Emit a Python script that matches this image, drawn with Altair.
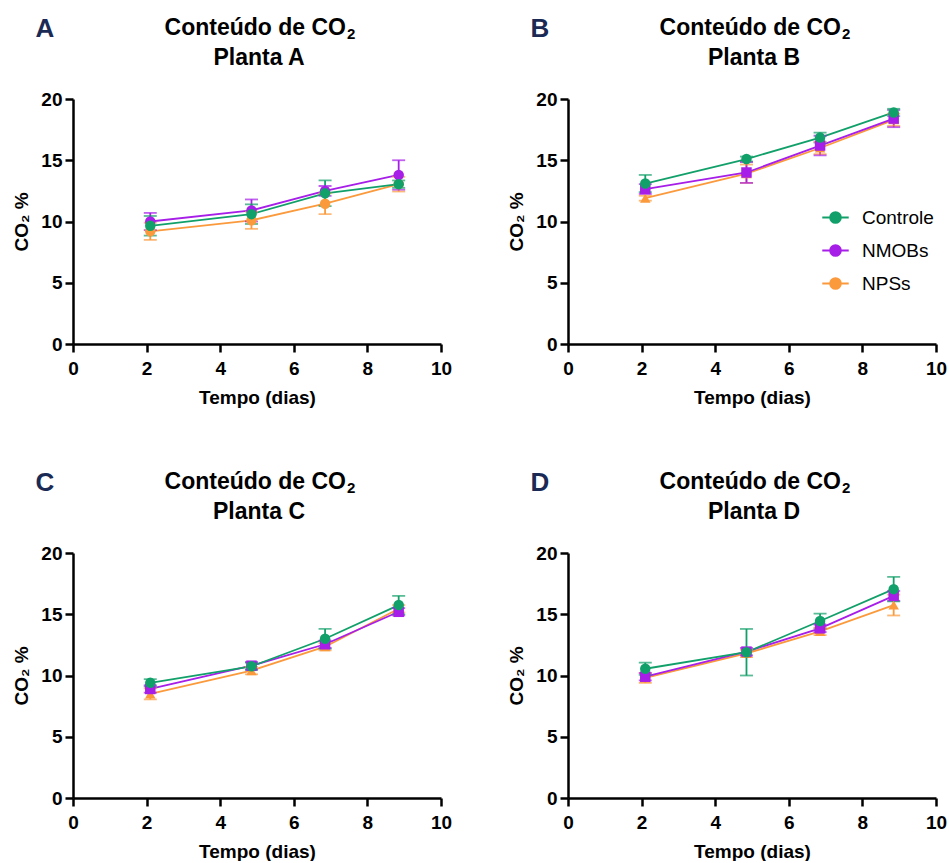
import altair as alt
import pandas as pd

dias = [2.1, 4.85, 6.85, 8.85]
grupos = ["Controle", "NMOBs", "NPSs"]
cores = ["#12a06a", "#a61ee8", "#fb9a3c"]
formas_padrao = ["circle", "square", "triangle-up"]
formas_A = ["circle", "circle", "circle"]

titulo_base = "Conteúdo de CO"
titulo_sub = "2"

# Planta A
A_controle = [9.65, 10.6, 12.3, 13.05]
A_nmobs = [10.0, 10.9, 12.5, 13.8]
A_npss = [9.2, 10.1, 11.45, 13.05]
A_controle_dp = [0.8, 0.8, 1.05, 0.3]
A_nmobs_dp = [0.7, 0.9, 0.4, 1.2]
A_npss_dp = [0.7, 0.7, 0.85, 0.6]

# Planta B
B_controle = [13.1, 15.1, 16.85, 18.9]
B_nmobs = [12.65, 14.0, 16.2, 18.4]
B_npss = [11.9, 13.9, 16.0, 18.3]
B_controle_dp = [0.7, 0.2, 0.4, 0.3]
B_nmobs_dp = [0.4, 0.85, 0.8, 0.7]
B_npss_dp = [0.2, 0.75, 0.5, 0.5]

# Planta C
C_controle = [9.4, 10.75, 13.0, 15.75]
C_nmobs = [8.9, 10.8, 12.55, 15.2]
C_npss = [8.5, 10.4, 12.35, 15.45]
C_controle_dp = [0.3, 0.3, 0.8, 0.75]
C_nmobs_dp = [0.3, 0.3, 0.3, 0.3]
C_npss_dp = [0.45, 0.3, 0.3, 0.3]

# Planta D
D_controle = [10.55, 11.9, 14.45, 17.05]
D_nmobs = [9.9, 11.95, 13.85, 16.5]
D_npss = [9.8, 11.8, 13.6, 15.75]
D_controle_dp = [0.5, 1.9, 0.6, 1.0]
D_nmobs_dp = [0.3, 0.3, 0.3, 0.4]
D_npss_dp = [0.4, 0.3, 0.3, 0.85]

FONT = "Liberation Sans"
SYMBOL = "M-1,0H1M0.4,0A0.4,0.4,0,1,1,-0.4,0A0.4,0.4,0,1,1,0.4,0Z"
W, H = 368, 245


def texto(t, size, weight, color, align, x, y, dy=0):
    return alt.Chart(pd.DataFrame({"t": [t]})).mark_text(
        font=FONT, fontSize=size, fontWeight=weight, color=color,
        align=align, baseline="middle", dy=dy).encode(
        text="t:N", x=alt.value(x), y=alt.value(y))


def painel(letra, planta, medias, dps, formas, legenda):
    rows = []
    # Controle drawn last so it sits on top
    for gi in [2, 1, 0]:
        for i, d in enumerate(dias):
            m = medias[gi][i]
            s = dps[gi][i]
            rows.append({"dia": d, "co2": m, "lo": m - s, "hi": m + s,
                         "grupo": grupos[gi], "forma": formas[gi]})
    df = pd.DataFrame(rows)
    base = alt.Chart(df)
    x = alt.X("dia:Q", scale=alt.Scale(domain=[0, 10], nice=False),
              axis=alt.Axis(values=[0, 2, 4, 6, 8, 10], title="Tempo (dias)",
                            labelFlush=False))
    y = alt.Y("co2:Q", scale=alt.Scale(domain=[0, 20], nice=False),
              axis=alt.Axis(values=[0, 5, 10, 15, 20], title="CO₂ %",
                            labelFlush=False))
    if legenda:
        leg = alt.Legend(title=None, orient="none", legendX=253, legendY=104,
                         symbolType=SYMBOL, symbolSize=700, symbolStrokeWidth=2,
                         labelFontSize=19, labelFont=FONT, labelColor="black",
                         rowPadding=8, labelOffset=12, symbolOpacity=1)
    else:
        leg = None
    col = alt.Color("grupo:N", scale=alt.Scale(domain=grupos, range=cores),
                    legend=leg, sort=grupos)
    linhas = base.mark_line(strokeWidth=1.8).encode(
        x=x, y=y, color=col, detail="grupo:N", order="dia:Q")
    barras = base.mark_rule(strokeWidth=1.8).encode(
        x=x, y=alt.Y("lo:Q"), y2="hi:Q", color=col)
    cap_lo = base.mark_tick(orient="horizontal", size=13, thickness=1.8).encode(
        x=x, y=alt.Y("lo:Q"), color=col)
    cap_hi = base.mark_tick(orient="horizontal", size=13, thickness=1.8).encode(
        x=x, y=alt.Y("hi:Q"), color=col)
    pontos = base.mark_point(filled=True, size=110, opacity=1).encode(
        x=x, y=y, color=col, shape=alt.Shape("forma:N", scale=None))
    rot_letra = texto(letra, 26, "bold", "#1b2a55", "center", -28, -70)
    t1 = texto(titulo_base, 23, "bold", "black", "right", 273, -71)
    t1s = texto(titulo_sub, 15, "bold", "black", "left", 274, -71, dy=6)
    t2 = texto(planta, 23, "bold", "black", "center", W / 2 + 2, -41)
    return alt.layer(linhas, barras, cap_lo, cap_hi, pontos,
                     rot_letra, t1, t1s, t2).properties(width=W, height=H)


pA = painel("A", "Planta A", [A_controle, A_nmobs, A_npss],
            [A_controle_dp, A_nmobs_dp, A_npss_dp], formas_A, False)
pB = painel("B", "Planta B", [B_controle, B_nmobs, B_npss],
            [B_controle_dp, B_nmobs_dp, B_npss_dp], formas_padrao, True)
pC = painel("C", "Planta C", [C_controle, C_nmobs, C_npss],
            [C_controle_dp, C_nmobs_dp, C_npss_dp], formas_padrao, False)
pD = painel("D", "Planta D", [D_controle, D_nmobs, D_npss],
            [D_controle_dp, D_nmobs_dp, D_npss_dp], formas_padrao, False)

topo = alt.hconcat(pA, pB, spacing=55).resolve_scale(color="independent")
baixo = alt.hconcat(pC, pD, spacing=55).resolve_scale(color="independent")
chart = alt.vconcat(topo, baixo, spacing=63).resolve_scale(
    color="independent"
).properties(
    padding={"left": 12, "top": 16, "right": 0, "bottom": 0}
).configure_view(stroke=None).configure_axis(
    domainColor="black", domainWidth=2.5, tickColor="black", tickWidth=2.5,
    tickSize=8, labelFont=FONT, labelFontWeight="bold", labelFontSize=19,
    labelColor="black", titleFont=FONT, titleFontSize=19,
    titleFontWeight="bold", titleColor="black", grid=False,
    labelOverlap=False
).configure_axisY(titlePadding=9, labelPadding=3).configure_axisX(
    titlePadding=10, labelPadding=7)

chart.save("out.html", embed_options={"renderer": "svg", "actions": False})
